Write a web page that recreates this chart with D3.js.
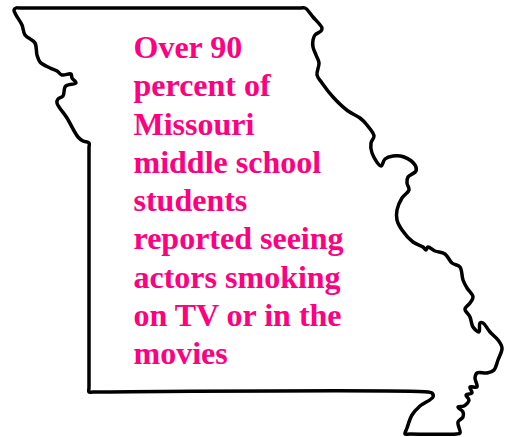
<!DOCTYPE html>
<html>
<head>
<meta charset="utf-8">
<script src="https://cdn.jsdelivr.net/npm/d3@7"></script>
<style>
  html, body { margin: 0; padding: 0; background: #fff; overflow: hidden; }
</style>
</head>
<body>
<script>
const width = 506;
const height = 437;

const outlineX = [16, 20, 300, 305, 313, 322, 321, 315, 313, 313, 316, 319, 317, 322, 333, 348, 360, 367, 374, 371, 372, 381,
  385, 393, 404, 415, 416, 408, 407, 409, 402, 397, 397, 402, 413, 423, 426, 428, 435, 445, 452, 460,
  463, 467, 473, 470, 465, 470, 473, 479, 480, 483, 490, 498, 502, 498, 494, 487, 477, 475, 477, 470,
  472, 466, 469, 464, 458, 463, 463, 458, 460, 456, 410, 405, 407, 412, 420, 433, 432, 428, 93, 89, 89, 89, 89, 83, 78,
  67, 57, 58, 63, 65, 68, 76, 72, 71, 62, 57, 50, 40, 37, 35, 25, 22, 16, 14];
const outlineY = [8, 8, 8, 8, 17, 28, 31, 35, 40, 47, 55, 63, 75, 83, 97, 111, 118, 125, 136, 143, 153, 166,
  159, 156, 157, 165, 171, 177, 183, 190, 198, 210, 220, 230, 242, 247, 250, 247, 251, 254, 263, 267,
  280, 288, 297, 303, 309, 317, 327, 332, 323, 323, 332, 340, 348, 360, 370, 373, 373, 378, 387, 387,
  393, 395, 400, 406, 407, 412, 417, 422, 433, 434, 434, 434, 428, 415, 406, 397, 393, 392, 392, 392, 387, 148, 143, 141, 137,
  118, 103, 99, 96, 87, 85, 83, 78, 74, 75, 71, 68, 62, 55, 43, 35, 25, 15, 10];

const captionLines = ["Over 90", "percent of", "Missouri", "middle school", "students",
  "reported seeing", "actors smoking", "on TV or in the", "movies"];

const x = d3.scaleLinear().domain([0, 506]).range([0, width]);
const y = d3.scaleLinear().domain([0, 437]).range([0, height]);
const lineY = d3.scalePoint().domain(d3.range(captionLines.length)).range([58, 364]);

const svg = d3.select("body")
  .append("svg")
  .attr("width", width)
  .attr("height", height)
  .style("display", "block");

const outline = d3.line()
  .x(i => x(outlineX[i]))
  .y(i => y(outlineY[i]))
  .curve(d3.curveCatmullRomClosed.alpha(0.5));

svg.append("path")
  .attr("d", outline(d3.range(outlineX.length)))
  .attr("fill", "none")
  .attr("stroke", "#000")
  .attr("stroke-width", 3.5);

svg.selectAll("text")
  .data(captionLines)
  .enter()
  .append("text")
  .attr("x", 133.5)
  .attr("y", (d, i) => lineY(i))
  .attr("fill", "#ff0080")
  .style("font-family", "'Liberation Serif', serif")
  .style("font-weight", "bold")
  .style("font-size", "32px")
  .text(d => d);
</script>
</body>
</html>
